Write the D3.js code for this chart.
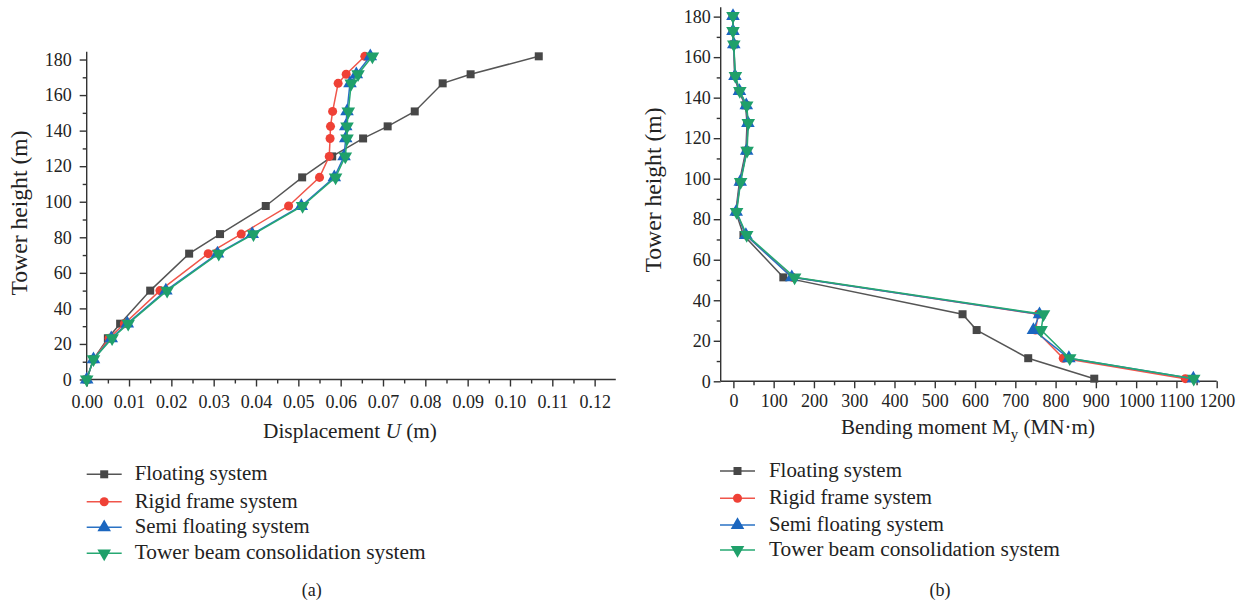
<!DOCTYPE html>
<html>
<head>
<meta charset="utf-8">
<script src="https://d3js.org/d3.v7.min.js"></script>
<style>
body { margin: 0; background: #fff; }
</style>
</head>
<body>
<svg id="chart" width="1246" height="605" font-family="Liberation Serif" fill="#222"></svg>
<script>
// ---- data ----
var seriesNames = ["Floating system", "Rigid frame system", "Semi floating system", "Tower beam consolidation system"];

// (a) displacement U (m) vs tower height (m)
var heightA = [0, 11.4, 23.2, 31.4, 50, 70.8, 81.8, 97.6, 113.7, 125.5, 135.6, 142.4, 150.8, 166.6, 171.7, 181.8];
var dispFloating = [0, 0.0016, 0.0050, 0.0079, 0.0150, 0.0242, 0.0315, 0.0423, 0.0509, 0.0580, 0.0653, 0.0711, 0.0775, 0.0841, 0.0907, 0.1068];
var dispRigid    = [0, 0.0016, 0.0053, 0.0089, 0.0173, 0.0287, 0.0365, 0.0477, 0.0550, 0.0573, 0.0575, 0.0576, 0.0581, 0.0594, 0.0613, 0.0657];
var dispSemi     = [0, 0.0016, 0.0058, 0.0096, 0.0187, 0.0309, 0.0391, 0.0507, 0.0585, 0.0608, 0.0612, 0.0612, 0.0615, 0.0622, 0.0637, 0.0670];
var dispTower    = [0, 0.0016, 0.0060, 0.0098, 0.0190, 0.0312, 0.0394, 0.0510, 0.0588, 0.0611, 0.0615, 0.0615, 0.0618, 0.0625, 0.0641, 0.0675];

// (b) bending moment My (MN·m) vs tower height (m)
var heightB = [180.3, 172.9, 166.3, 150.7, 143.3, 136.2, 127.5, 113.8, 98.4, 83.6, 72.2, 51.3, 33.1, 25.3, 11.4, 1.3];
var momFloating = [-1, -1, 1, 3, 13, 30, 34, 31, 15, 6, 25, 124, 569, 604, 732, 896];
var momRigid    = [-1, -1, 1, 4, 15, 32, 36, 33, 17, 7, 31, 147, 757, 750, 819, 1122];
var momSemi     = [-1, -1, 1, 4, 15, 32, 36, 33, 17, 7, 31, 145, 760, 745, 833, 1142];
var momTower    = [-1, -1, 1, 5, 16, 33, 37, 34, 18, 8, 33, 152, 770, 764, 835, 1143];

var ticksA = [0, 0.01, 0.02, 0.03, 0.04, 0.05, 0.06, 0.07, 0.08, 0.09, 0.10, 0.11, 0.12];
var ticksB = [0, 100, 200, 300, 400, 500, 600, 700, 800, 900, 1000, 1100, 1200];
var ticksH = [0, 20, 40, 60, 80, 100, 120, 140, 160, 180];

var colors = ["#474747", "#ef4136", "#1b66bf", "#1fa06a"];
var lineColors = ["#555555", "#f0554a", "#2a72c4", "#26a872"];
var symbols = [d3.symbolSquare, d3.symbolCircle, d3.symbolTriangle, "down"];
var FONT = "Liberation Serif";

var svg = d3.select("#chart");

function drawMarker(sel, i, cx, cy) {
  var sizes = [64, 64, 80, 80];
  var type = symbols[i] === "down" ? d3.symbolTriangle : symbols[i];
  var rot = symbols[i] === "down" ? " rotate(180)" : "";
  sel.append("path")
    .attr("d", d3.symbol().type(type).size(sizes[i])())
    .attr("transform", "translate(" + cx + "," + cy + ")" + rot)
    .attr("fill", colors[i]);
}

// grow/shrink a text so that it spans the wanted width
function fitWidth(t, base, width) {
  t.attr("font-size", base);
  var w = t.node().getComputedTextLength();
  if (w > 0) t.attr("font-size", (base * width / w).toFixed(2));
}

function styleAxis(g) {
  g.attr("font-family", FONT).attr("font-size", 18);
  g.selectAll("path, line").attr("stroke", "#333").attr("stroke-width", 1.4);
  g.selectAll("text").attr("fill", "#222").attr("font-family", FONT).attr("font-size", 18);
}

function panel(opt) {
  var x = d3.scaleLinear().domain(opt.xDomain).range(opt.xRange);
  var y = d3.scaleLinear().domain(opt.yDomain).range(opt.yRange);
  var x0 = opt.yAxisX, y0 = opt.yRange[0];

  // minor ticks
  svg.append("g").attr("transform", "translate(0," + y0 + ")")
    .call(d3.axisBottom(x).tickValues(opt.xMinor).tickSize(4).tickFormat("").tickSizeOuter(0))
    .call(styleAxis).select(".domain").remove();
  svg.append("g").attr("transform", "translate(" + x0 + ",0)")
    .call(d3.axisLeft(y).tickValues(d3.range(10, 181, 20)).tickSize(4).tickFormat("").tickSizeOuter(0))
    .call(styleAxis).select(".domain").remove();

  // major axes
  var gx = svg.append("g").attr("transform", "translate(0," + y0 + ")")
    .call(d3.axisBottom(x).tickValues(opt.xTicks).tickSize(7).tickSizeOuter(0).tickPadding(opt.xPad).tickFormat(opt.xFormat))
    .call(styleAxis);
  gx.select(".domain").attr("d", "M" + x0 + ",0H" + opt.xRange[1]);
  var gy = svg.append("g").attr("transform", "translate(" + x0 + ",0)")
    .call(d3.axisLeft(y).tickValues(ticksH).tickSize(7).tickSizeOuter(0).tickPadding(opt.yPad))
    .call(styleAxis);
  gy.select(".domain").attr("d", "M0," + y0 + "V" + opt.yRange[1]);

  // lines + markers
  opt.series.forEach(function(vals, i) {
    var pts = vals.map(function(v, k) { return [x(v), y(opt.heights[k])]; });
    svg.append("path").datum(pts)
      .attr("fill", "none").attr("stroke", lineColors[i]).attr("stroke-width", 1.5)
      .attr("d", d3.line());
    var g = svg.append("g");
    pts.forEach(function(p) { drawMarker(g, i, p[0], p[1]); });
  });

  // axis titles
  var yt = svg.append("text").attr("transform", "translate(" + opt.yTitleX + "," + opt.yTitleY + ") rotate(-90)")
    .attr("text-anchor", "middle").text("Tower height (m)");
  fitWidth(yt, 17, opt.yTitleW);
  var xt = svg.append("text").attr("x", opt.xTitleX).attr("y", opt.xTitleY).attr("text-anchor", "middle");
  opt.xTitle(xt);
  fitWidth(xt, 17, opt.xTitleW);

  // legend
  var lg = svg.append("g");
  seriesNames.forEach(function(name, i) {
    var ly = opt.legendY[i];
    lg.append("line").attr("x1", opt.legendX).attr("x2", opt.legendX + 35)
      .attr("y1", ly).attr("y2", ly).attr("stroke", lineColors[i]).attr("stroke-width", 1.5);
    drawMarker(lg, i, opt.legendX + 17.5, ly);
    var t = lg.append("text").attr("x", opt.legendX + opt.legendTextOff).attr("y", ly + 6).text(name);
    fitWidth(t, 17, opt.legendW[i]);
  });
  svg.append("text").attr("x", opt.capX).attr("y", 596).attr("text-anchor", "middle")
    .attr("font-size", 18).text(opt.cap);
}

// (a)
panel({
  xDomain: [0, 0.125], xRange: [86.7, 615.8],
  yDomain: [0, 184.4], yRange: [379.5, 51.7],
  yAxisX: 86.7, xPad: 9, yPad: 8,
  xTicks: ticksA, xMinor: d3.range(0.005, 0.125, 0.01),
  xFormat: d3.format(".2f"),
  heights: heightA,
  series: [dispFloating, dispRigid, dispSemi, dispTower],
  yTitleX: 27, yTitleY: 213, yTitleW: 165,
  xTitleX: 350, xTitleY: 438, xTitleW: 174,
  xTitle: function(t) {
    t.append("tspan").text("Displacement ");
    t.append("tspan").attr("font-style", "italic").text("U");
    t.append("tspan").text(" (m)");
  },
  legendX: 86.7, legendY: [474.3, 501.7, 527.3, 553.3], legendTextOff: 48,
  legendW: [133, 163, 175, 291],
  capX: 311.7, cap: "(a)"
});

// (b)
panel({
  xDomain: [-31.5, 1200], xRange: [720.7, 1216.7],
  yDomain: [0, 184.6], yRange: [381.3, 7.3],
  yAxisX: 720.7, xPad: 6, yPad: 3,
  xTicks: ticksB, xMinor: d3.range(50, 1200, 100),
  xFormat: d3.format("d"),
  heights: heightB,
  series: [momFloating, momRigid, momSemi, momTower],
  yTitleX: 661, yTitleY: 190, yTitleW: 165,
  xTitleX: 968, xTitleY: 434, xTitleW: 254,
  xTitle: function(t) {
    t.append("tspan").text("Bending moment M");
    t.append("tspan").attr("font-size", "0.7em").attr("dy", 5).text("y");
    t.append("tspan").attr("dy", -5).text(" (MN\u00b7m)");
  },
  legendX: 720, legendY: [471, 498.3, 525, 550], legendTextOff: 49,
  legendW: [133, 163, 175, 291],
  capX: 940, cap: "(b)"
});
</script>
</body>
</html>
